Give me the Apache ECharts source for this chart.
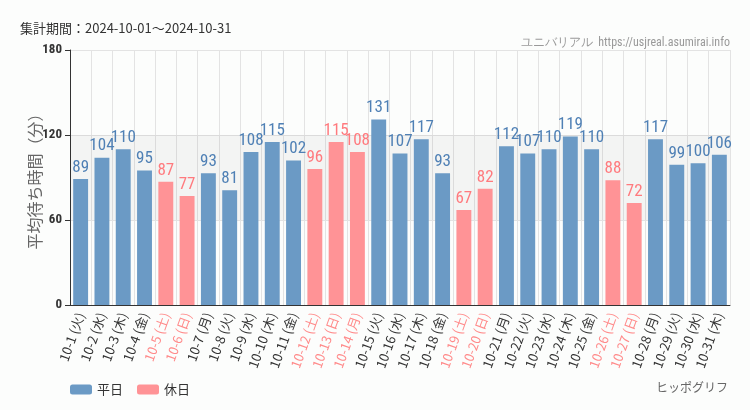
<!DOCTYPE html>
<html><head><meta charset="utf-8">
<script src="https://cdn.jsdelivr.net/npm/echarts@6/dist/echarts.min.js"></script>
<style>html,body{margin:0;padding:0;background:#fcfdfc;}#c{width:750px;height:410px;}</style>
</head><body><div id="c"></div>
<script>
const categories = ['10-1 (火)','10-2 (水)','10-3 (木)','10-4 (金)','10-5 (土)','10-6 (日)','10-7 (月)','10-8 (火)','10-9 (水)','10-10 (木)','10-11 (金)','10-12 (土)','10-13 (日)','10-14 (月)','10-15 (火)','10-16 (水)','10-17 (木)','10-18 (金)','10-19 (土)','10-20 (日)','10-21 (月)','10-22 (火)','10-23 (水)','10-24 (木)','10-25 (金)','10-26 (土)','10-27 (日)','10-28 (月)','10-29 (火)','10-30 (水)','10-31 (木)'];
const waitValues = [89,104,110,95,87,77,93,81,108,115,102,96,115,108,131,107,117,93,67,82,112,107,110,119,110,88,72,117,99,100,106];
const holidayFlags = [0,0,0,0,1,1,0,0,0,0,0,1,1,1,0,0,0,0,1,1,0,0,0,0,0,1,1,0,0,0,0];
const yTicks = [0,60,120,180];

const weekday = waitValues.map((v,i)=>holidayFlags[i]?null:v);
const holiday = waitValues.map((v,i)=>holidayFlags[i]?v:null);
const BLUE='#6b9ac5', RED='#ff9396', BLUE_T='#4f80b5', RED_T='#ff7a7e';
const numFont = '"Roboto Condensed","DejaVu Sans Condensed","Liberation Sans Narrow",sans-serif';

const chart = echarts.init(document.getElementById('c'));
chart.setOption({
  backgroundColor:'#fcfdfc',
  animation:false,
  textStyle:{fontFamily:'"Noto Sans CJK JP","Noto Sans",sans-serif'},
  title:[
    {text:'集計期間：2024-10-01〜2024-10-31',left:15,top:17,textStyle:{fontSize:13,fontWeight:'normal',color:'#333',fontFamily:'"Noto Sans CJK JP",sans-serif'}},
    {text:'ユニバリアル  https://usjreal.asumirai.info',right:15,top:32,textStyle:{fontSize:12,fontWeight:'normal',color:'#999',fontFamily:numFont}},
    {text:'ヒッポグリフ',right:17,top:376,textStyle:{fontSize:12,fontWeight:'normal',color:'#666',fontFamily:'"Noto Sans CJK JP",sans-serif'}}
  ],
  legend:{left:65,top:378,itemWidth:22,itemHeight:10,itemGap:14,textStyle:{fontSize:13,color:'#333'},data:['平日','休日']},
  grid:{left:70,right:20,top:50,bottom:105},
  xAxis:{type:'category',data:categories,
    axisLine:{lineStyle:{color:'#333'}},
    axisTick:{alignWithLabel:true,lineStyle:{color:'#333'}},
    splitLine:{show:true,lineStyle:{color:'#e3e3e3'}},
    axisLabel:{rotate:70,interval:0,fontSize:13,margin:8,
      color:(v,i)=>holidayFlags[i]?'#ff8a8a':'#333'}
  },
  yAxis:{type:'value',min:0,max:180,interval:60,
    name:'平均待ち時間（分）',nameLocation:'middle',nameGap:27,nameRotate:90,nameMoveOverlap:false,
    nameTextStyle:{fontSize:16,color:'#666'},
    axisLine:{show:true,lineStyle:{color:'#333'}},
    axisTick:{show:true,lineStyle:{color:'#333'}},
    axisLabel:{fontSize:13,color:'#333',fontWeight:'bold',fontFamily:numFont,formatter:v=>yTicks.includes(v)?String(v):''},
    splitLine:{lineStyle:{color:'#e3e3e3'}}
  },
  series:[
    {name:'平日',type:'bar',data:weekday,barWidth:'70%',barGap:'-100%',
      itemStyle:{color:BLUE},
      label:{show:true,position:'top',distance:3,color:BLUE_T,fontSize:17,fontFamily:numFont},
      markArea:{silent:true,itemStyle:{color:'rgba(0,0,0,0.035)'},data:[[{yAxis:60},{yAxis:120}]]}
    },
    {name:'休日',type:'bar',data:holiday,barWidth:'70%',barGap:'-100%',
      itemStyle:{color:RED},
      label:{show:true,position:'top',distance:3,color:RED_T,fontSize:17,fontFamily:numFont}
    }
  ]
});
</script></body></html>
